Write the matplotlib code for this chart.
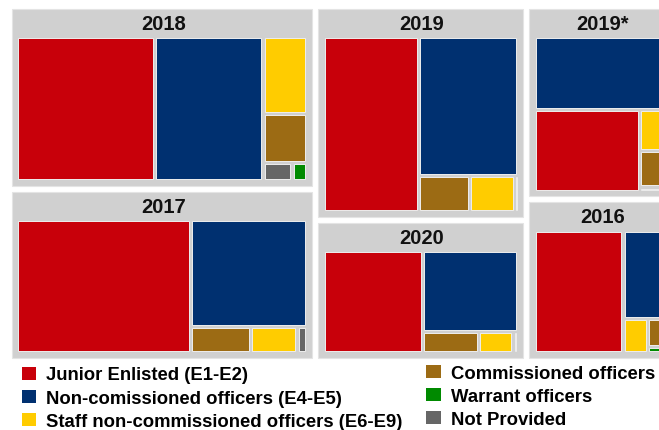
import matplotlib
matplotlib.use("Agg")
import matplotlib.pyplot as plt
from matplotlib.patches import Rectangle, Patch

plt.rcParams["font.family"] = ["Liberation Sans", "DejaVu Sans"]

# values per year (tile areas)
years = ["2018", "2017", "2019", "2020", "2019*", "2016"]
junior = [2659, 3154, 2206, 1514, 1213, 1609]
nco = [2099, 1701, 1830, 1156, 1362, 584]
staff = [452, 165, 217, 110, 166, 125]
commissioned = [290, 217, 246, 180, 144, 85]
warrant = [37, 0, 0, 0, 0, 20]
not_provided = [72, 36, 15, 16, 18, 0]

categories = [
    "Junior Enlisted (E1-E2)",
    "Non-comissioned officers (E4-E5)",
    "Staff non-commissioned officers (E6-E9)",
    "Commissioned officers",
    "Warrant officers",
    "Not Provided",
]
series = [junior, nco, staff, commissioned, warrant, not_provided]
colors = ["#C8000A", "#003070", "#FFCC00", "#9C6B14", "#008A00", "#666666"]

PANEL_BG = "#D0D0D0"
GAP = 3.0       # inset of a year panel inside its cell
BANNER = 27.5   # header band with the year
PAD = 5.0       # padding inside the panel
INSET = 1.6     # inset of each tile


def worst(row, side):
    s = sum(row)
    return max(max(side * side * r / (s * s), (s * s) / (side * side * r)) for r in row)


def squarify(values, x, y, w, h):
    # values must be sorted descending, returns rects in the same order
    total = sum(values)
    sizes = [v * w * h / total for v in values]
    rects = []
    while sizes:
        side = h if w >= h else w
        row = [sizes[0]]
        i = 1
        while i < len(sizes) and worst(row + [sizes[i]], side) <= worst(row, side):
            row.append(sizes[i])
            i += 1
        thick = sum(row) / side
        if w >= h:
            yy = y
            for a in row:
                rects.append((x, yy, thick, a / thick))
                yy += a / thick
            x += thick
            w -= thick
        else:
            xx = x
            for a in row:
                rects.append((xx, y, a / thick, thick))
                xx += a / thick
            y += thick
            h -= thick
        sizes = sizes[len(row):]
    return rects


fig = plt.figure(figsize=(6.59, 4.31), dpi=100)
ax = fig.add_axes([0, 0, 1, 1])
ax.set_xlim(0, 659)
ax.set_ylim(431, 0)
ax.axis("off")

totals = [sum(s[j] for s in series) for j in range(len(years))]
order = sorted(range(len(years)), key=lambda j: -totals[j])
year_rects = squarify([totals[j] for j in order], 8.5, 7, 667.5, 355)

for j, (x, y, w, h) in zip(order, year_rects):
    px, py, pw, ph = x + GAP, y + GAP, w - 2 * GAP, h - 2 * GAP
    ax.add_patch(Rectangle((px, py), pw, ph, facecolor=PANEL_BG, edgecolor="#E4E4E4", lw=0.8))
    ax.text(px + pw / 2 + 1.5, py + BANNER / 2 + 0.5, years[j], ha="center", va="center",
            fontsize=14.5, fontweight="bold", color="#111111")

    items = [(series[k][j], k) for k in range(len(series)) if series[k][j] > 0]
    items.sort(key=lambda t: -t[0])
    ix, iy = px + PAD, py + BANNER
    iw, ih = pw - 2 * PAD, ph - BANNER - PAD
    tiles = squarify([v for v, _ in items], ix, iy, iw, ih)
    for (v, k), (tx, ty, tw, th) in zip(items, tiles):
        ax.add_patch(Rectangle((tx + INSET, ty + INSET), max(tw - 2 * INSET, 0.3),
                               max(th - 2 * INSET, 0.3), facecolor=colors[k],
                               edgecolor="#EEEEEE", lw=0.7))

# legend in two columns, placed like the original
handles = [Patch(facecolor=c, edgecolor="none") for c in colors]
leg_kw = dict(loc="upper left", frameon=False, prop={"weight": "bold", "size": 13.3},
              handlelength=0.8, handleheight=0.7, handletextpad=0.52,
              labelspacing=0.33, borderpad=0, borderaxespad=0)
leg1 = fig.legend(handles[:3], categories[:3], bbox_to_anchor=(21.5 / 659, 1 - 367.5 / 431), **leg_kw)
leg2 = fig.legend(handles[3:], categories[3:], bbox_to_anchor=(426.5 / 659, 1 - 366 / 431), **leg_kw)

fig.savefig("out.png", dpi=100)
